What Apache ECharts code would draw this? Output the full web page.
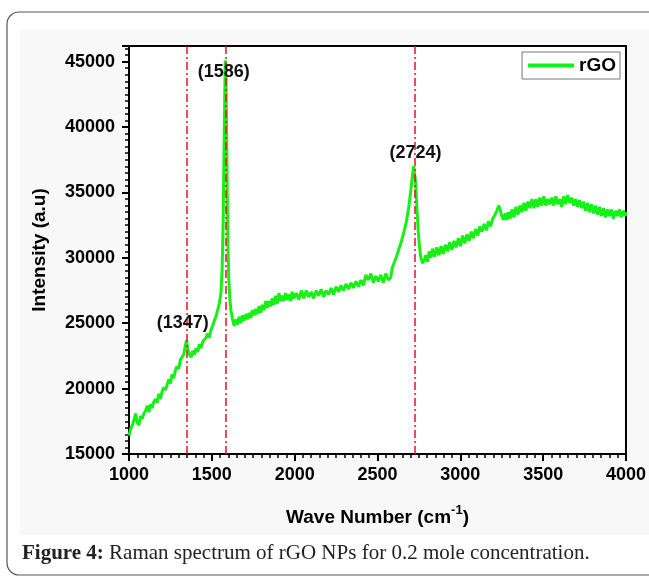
<!DOCTYPE html>
<html>
<head>
<meta charset="utf-8">
<script src="https://cdn.jsdelivr.net/npm/echarts@6/dist/echarts.min.js"></script>
<style>
  html, body { margin: 0; padding: 0; background: #fff; }
  #main { width: 649px; height: 578px; }
</style>
</head>
<body>
<div id="main"></div>
<script>
// Raman spectrum of rGO
var waveNumber = [
  1000,1010,1020,1030,1040,1050,1060,1070,1080,1090,1100,1110,1120,1130,1140,1150,1160,1170,1180,1190,
  1200,1210,1220,1230,1240,1250,1260,1270,1280,1290,1300,1310,1320,1330,1340,1347,1355,1365,1375,1385,
  1395,1405,1415,1425,1435,1445,1455,1465,1475,1485,1495,1505,1515,1525,1535,1545,1555,1562,1568,1573,
  1578,1581,1585,1589,1593,1597,1602,1608,1615,1625,1635,1645,1655,1665,1675,1685,1695,1705,1715,1725,
  1735,1745,1755,1765,1775,1785,1795,1805,1815,1825,1835,1845,1855,1865,1875,1885,1895,1905,1915,1925,
  1935,1945,1955,1965,1975,1985,1995,2010,2025,2040,2055,2070,2085,2100,2115,2130,2145,2160,2175,2190,
  2205,2220,2235,2250,2265,2280,2295,2310,2325,2340,2355,2370,2385,2400,2415,2430,2445,2460,2475,2490,
  2505,2520,2535,2550,2565,2580,2590,2600,2615,2630,2645,2660,2675,2690,2700,2710,2718,2724,2730,2738,
  2746,2754,2762,2772,2782,2792,2802,2812,2822,2832,2845,2858,2871,2884,2897,2910,2923,2936,2949,2962,
  2975,2988,3001,3014,3027,3040,3053,3066,3079,3092,3105,3118,3131,3144,3157,3170,3183,3196,3210,3220,
  3232,3240,3250,3260,3270,3280,3290,3300,3312,3324,3336,3348,3360,3372,3384,3396,3408,3420,3432,3444,
  3456,3468,3480,3492,3504,3516,3528,3540,3552,3564,3576,3588,3600,3612,3624,3636,3648,3660,3672,3684,
  3696,3708,3720,3732,3744,3756,3768,3780,3792,3804,3816,3828,3840,3852,3864,3876,3888,3900,3912,3924,
  3936,3948,3960,3972,3984,3996,4000
];
var intensity = [
  16400,16900,17200,17600,18100,17400,17200,17900,17700,18100,18300,18700,18200,18800,18500,19000,19200,18900,19600,19200,
  19800,20100,19900,20300,20700,20400,21100,20800,21400,21700,21500,22200,22400,22600,23300,23700,23000,22600,22400,22900,
  22600,23100,22800,23400,23100,23600,23500,23900,24200,23900,24500,24800,25200,25500,26000,26500,27300,29000,32500,37500,
  42500,45100,44200,40000,35000,31000,28500,27000,26000,25300,24800,25300,24900,25500,25000,25600,25200,25700,25300,25800,
  25400,26000,25600,26100,25700,26300,25800,26400,26000,26700,26200,26700,26300,26900,26400,27100,26500,27300,26700,27100,
  26700,27300,26800,27200,26700,27400,26900,27300,26800,27500,26900,27500,27000,27400,26900,27500,27100,27600,27000,27500,
  27200,27700,27200,27800,27400,27900,27500,28000,27600,28100,27700,28200,27800,28300,27900,28700,28300,28800,28100,28600,
  28200,28700,28100,28800,28300,28500,29300,29600,30100,30700,31300,32000,32800,34000,35000,36200,37000,36900,35800,33800,
  32000,30800,30000,29600,29800,30200,29700,30500,30000,30700,30100,30800,30200,30900,30300,31000,30500,31200,30600,31300,
  30800,31500,30900,31700,31100,31800,31300,32000,31500,32200,31700,32400,32000,32600,32100,32800,32400,33000,33300,33600,
  34000,33700,33200,32900,33400,32900,33500,33000,33700,33100,33900,33300,34000,33500,34200,33600,34300,33800,34500,33800,
  34500,33900,34600,34000,34700,34000,34500,34100,34600,34000,34700,34100,34500,33900,34700,34100,34800,34200,34600,34000,
  34500,33900,34400,33800,34300,33600,34200,33500,34100,33400,34000,33300,33900,33200,33800,33100,33700,33200,33700,33000,
  33600,33200,33700,33100,33600,33200,33500
];
var peakLines = [1347, 1586, 2724];
var peakLabels = ['(1347)', '(1586)', '(2724)'];
var labelPos = [[1325, 25000], [1572, 44200], [2729, 38000]];

var points = [];
for (var i = 0; i < waveNumber.length; i++) {
  points.push([waveNumber[i], intensity[i]]);
}

var lineMarks = [];
var labelMarks = [];
for (var j = 0; j < peakLines.length; j++) {
  lineMarks.push({ xAxis: peakLines[j] });
  labelMarks.push({ coord: labelPos[j], value: peakLabels[j] });
}

var myChart = echarts.init(document.getElementById('main'));
myChart.setOption({
  animation: false,
  backgroundColor: '#fff',
  graphic: [
    // light panel and rounded frame round the figure
    { type: 'rect', z: -10, shape: { x: 20, y: 30, width: 640, height: 505 }, style: { fill: '#f8f8f8' } },
    { type: 'rect', z: -9, shape: { x: 7, y: 12, width: 680, height: 563, r: 12 }, style: { fill: 'none', stroke: '#555', lineWidth: 1.2 } },
    {
      type: 'text', left: 22, top: 543,
      style: {
        text: '{b|Figure 4:} Raman spectrum of rGO NPs for 0.2 mole concentration.',
        font: '21px "Liberation Serif", serif', fill: '#222',
        rich: { b: { fontFamily: 'Liberation Serif', fontWeight: 'bold', fontSize: 21, fill: '#222' } }
      }
    }
  ],
  grid: {
    left: 129, right: 22, top: 46, bottom: 124,
    show: true, backgroundColor: '#fff', borderColor: '#000', borderWidth: 2
  },
  legend: {
    data: [{ name: 'rGO', icon: 'rect' }],
    right: 29, top: 52,
    itemWidth: 46, itemHeight: 4,
    padding: [4, 4, 4, 6],
    borderColor: '#777', borderWidth: 1, backgroundColor: '#fff',
    textStyle: { fontFamily: 'Liberation Sans', fontWeight: 'bold', fontSize: 19, color: '#000' }
  },
  xAxis: {
    type: 'value',
    min: 1000, max: 4000, interval: 500,
    name: 'Wave Number (cm{sup|-1})',
    nameLocation: 'middle', nameGap: 50,
    nameTextStyle: {
      fontFamily: 'Liberation Sans', fontWeight: 'bold', fontSize: 19, color: '#000',
      rich: { sup: { fontFamily: 'Liberation Sans', fontWeight: 'bold', fontSize: 13, color: '#000', verticalAlign: 'bottom', padding: [0, 0, 14, 0] } }
    },
    axisLine: { lineStyle: { color: '#000', width: 2 } },
    axisTick: { length: 7, lineStyle: { color: '#000', width: 2 } },
    minorTick: { show: true, splitNumber: 10, length: 4, lineStyle: { color: '#000', width: 1.5 } },
    axisLabel: {
      fontFamily: 'Liberation Sans', fontWeight: 'bold', fontSize: 18, color: '#000', margin: 12,
      formatter: function (v) { return String(v); }
    },
    splitLine: { show: false }
  },
  yAxis: {
    type: 'value',
    min: 15000, max: 46200, interval: 5000,
    name: 'Intensity (a.u)',
    nameLocation: 'middle', nameGap: 80, nameRotate: 90,
    nameTextStyle: { fontFamily: 'Liberation Sans', fontWeight: 'bold', fontSize: 19, color: '#000' },
    axisLine: { lineStyle: { color: '#000', width: 2 } },
    axisTick: { length: 7, lineStyle: { color: '#000', width: 2 } },
    minorTick: { show: true, splitNumber: 10, length: 4, lineStyle: { color: '#000', width: 1.5 } },
    axisLabel: {
      fontFamily: 'Liberation Sans', fontWeight: 'bold', fontSize: 18, color: '#000', margin: 14,
      formatter: function (v) { return v % 5000 === 0 ? String(v) : ''; }
    },
    splitLine: { show: false }
  },
  series: [{
    name: 'rGO',
    type: 'line',
    data: points,
    symbol: 'none',
    smooth: false,
    lineStyle: { color: '#17f017', width: 3 },
    itemStyle: { color: '#17f017' },
    markLine: {
      silent: true, symbol: 'none',
      label: { show: false },
      lineStyle: { color: '#e8141e', width: 1.5, type: [8, 3, 2, 3] },
      data: lineMarks
    },
    markPoint: {
      silent: true, symbol: 'circle', symbolSize: 0,
      label: {
        show: true, position: 'inside', formatter: '{c}',
        fontFamily: 'Liberation Sans', fontWeight: 'bold', fontSize: 18, color: '#111'
      },
      data: labelMarks
    }
  }]
});
</script>
</body>
</html>
